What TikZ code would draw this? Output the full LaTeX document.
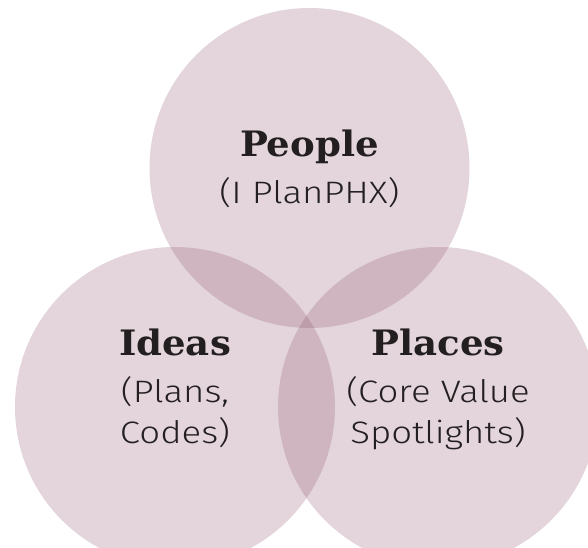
\documentclass[tikz,border=0pt]{standalone}
\usepackage{fontspec}
\newfontfamily\headfont[FakeStretch=1.06]{DejaVu Serif}
\newfontfamily\bodyfont[FakeStretch=1.18]{Fira Sans Light}
\definecolor{venn}{RGB}{143,87,111}
\definecolor{ink}{RGB}{35,31,32}
\tikzset{
  vcircle/.style={fill=venn, fill opacity=0.25, draw=none},
  headtxt/.style={anchor=base, text=ink, font=\headfont\bfseries\fontsize{35}{35}\selectfont, inner sep=0pt},
  bodytxt/.style={anchor=base, text=ink, font=\bodyfont\fontsize{31}{31}\selectfont, inner sep=0pt}
}
\begin{document}
\begin{tikzpicture}[x=1pt,y=1pt]
\useasboundingbox (0,0) rectangle (588,547);
\begin{scope}
\clip (0,0) rectangle (588,547);
\fill[vcircle] (309.5,379) circle (160);
\fill[vcircle] (175,140) circle (160);
\fill[vcircle] (438,140) circle (160);
\end{scope}
\node[headtxt] (people) at (309.5,390) {People};
\node[bodytxt] (peoplesub) at (309.5,344) {(I PlanPHX)};
\node[headtxt] (ideas) at (175,192) {Ideas};
\node[bodytxt] (ideas1) at (175,145) {(Plans,};
\node[bodytxt] (ideas2) at (175,104) {Codes)};
\node[headtxt] (places) at (438,192) {Places};
\node[bodytxt] (places1) at (438,145) {(Core Value};
\node[bodytxt] (places2) at (438,104) {Spotlights)};
\end{tikzpicture}
\end{document}
